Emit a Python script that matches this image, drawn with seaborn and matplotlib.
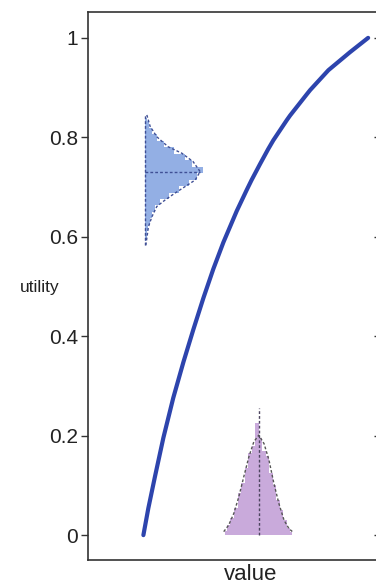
import numpy as np
import matplotlib
matplotlib.use("Agg")
import matplotlib.pyplot as plt
import seaborn as sns

# utility curve (value axis runs 0..1 across the box)
value = [0.191, 0.208, 0.231, 0.260, 0.294, 0.329, 0.363, 0.398, 0.432,
         0.467, 0.513, 0.548, 0.564, 0.593, 0.621, 0.639, 0.686, 0.697,
         0.755, 0.766, 0.829, 0.903, 0.966]
utility = [0.0, 0.054, 0.118, 0.196, 0.276, 0.348, 0.413, 0.477, 0.535,
           0.589, 0.652, 0.695, 0.714, 0.746, 0.776, 0.794, 0.835, 0.844,
           0.887, 0.895, 0.935, 0.971, 1.0]

# utility distribution (drawn sideways), bin centres and relative heights
u_bins = [0.5915, 0.6045, 0.6175, 0.6305, 0.6435, 0.6565, 0.6695, 0.6825,
          0.6955, 0.7085, 0.7215, 0.7345, 0.7475, 0.7605, 0.7735, 0.7865,
          0.7995, 0.8125, 0.8255, 0.8385]
u_counts = [1, 2, 3, 5, 7, 10, 15, 24, 34, 44, 52, 58, 47, 40, 29, 19,
            12, 7, 4, 2]
u_pdf_y = [0.583, 0.620, 0.640, 0.661, 0.674, 0.688, 0.701, 0.714, 0.731,
           0.751, 0.768, 0.781, 0.801, 0.822, 0.845]
u_pdf_d = [0.7, 3.3, 6.7, 11.7, 20, 30, 40, 50, 55, 48, 36.7, 23, 11.7, 5, 1.7]
u_mean = 0.73

# value distribution, bin centres and heights (in utility units)
v_bins = [0.4732, 0.4853, 0.4974, 0.5095, 0.5216, 0.5337, 0.5458, 0.5580,
          0.5701, 0.5822, 0.5943, 0.6064, 0.6185, 0.6306, 0.6427, 0.6549,
          0.6670, 0.6791, 0.6912, 0.7033]
v_counts = [0.008, 0.02, 0.035, 0.055, 0.085, 0.105, 0.135, 0.165, 0.18,
            0.225, 0.195, 0.17, 0.16, 0.125, 0.10, 0.07, 0.05, 0.03, 0.015,
            0.006]
v_pdf_x = [0.468, 0.485, 0.503, 0.520, 0.537, 0.555, 0.572, 0.589, 0.607,
           0.624, 0.641, 0.658, 0.676, 0.693, 0.705]
v_pdf_h = [0.007, 0.020, 0.044, 0.077, 0.117, 0.158, 0.188, 0.201, 0.184,
           0.151, 0.104, 0.064, 0.030, 0.013, 0.007]
v_mean = 0.59
v_mean_top = 0.255

yticks = [0, 0.2, 0.4, 0.6, 0.8, 1.0]
ytick_labels = ['0', '0.2', '0.4', '0.6', '0.8', '1']

sns.set_style("ticks")
plt.rcParams['font.family'] = ['Liberation Sans', 'DejaVu Sans']

fig = plt.figure(figsize=(3.76, 5.85), dpi=100)
ax = fig.add_axes([88 / 376, 25 / 585, 290 / 376, 548 / 585])

# sideways histogram for utility
base = 0.197
scale = 1 / 290
blue_fill = '#93afe4'
blue_line = '#3f4f95'
ax.fill_betweenx(u_bins, base, base + np.array(u_counts) * scale,
                 step='mid', color=blue_fill, lw=0)
sns.lineplot(x=base + np.array(u_pdf_d) * scale, y=u_pdf_y, sort=False,
             estimator=None, color=blue_line, lw=1, ls=(0, (2, 1.5)), ax=ax)
ax.plot([base, base], [u_pdf_y[0], u_pdf_y[-1]], color=blue_line, lw=1,
        ls=(0, (2, 1.5)))
ax.plot([base, base + max(u_pdf_d) * scale], [u_mean, u_mean],
        color=blue_line, lw=1, ls=(0, (2, 1.5)))

# histogram for value
ax.fill_between(v_bins, 0, v_counts, step='mid', color='#c9aadb', lw=0)
sns.lineplot(x=v_pdf_x, y=v_pdf_h, sort=False, estimator=None,
             color='#555555', lw=1, ls=(0, (2, 1.5)), ax=ax)
ax.plot([v_mean, v_mean], [0, v_mean_top], color='#4d4560', lw=1,
        ls=(0, (2, 1.5)))

# utility function
sns.lineplot(x=value, y=utility, sort=False, estimator=None,
             color='#2d44ad', lw=3, solid_joinstyle='round',
             solid_capstyle='round', ax=ax)

ax.set_xlim(0, 1)
ax.set_ylim(-0.05, 1.052)
ax.set_xticks([])
ax.set_yticks(yticks)
ax.set_yticklabels(ytick_labels, fontsize=15)
ax.tick_params(axis='y', direction='out', length=5, width=1, color='#333333',
               pad=2, labelcolor='#222222')
for s in ax.spines.values():
    s.set_color('#333333')
    s.set_linewidth(1.2)

right = ax.secondary_yaxis('right')
right.set_yticks(yticks)
right.tick_params(direction='in', length=3, width=1, color='#333333',
                  labelright=False)

ax.set_ylabel('utility', rotation=0, fontsize=12.5, ha='center', va='center',
              color='#222222')
ax.yaxis.set_label_coords(-0.166, 0.498)
ax.set_xlabel('value', fontsize=16, va='baseline', color='#222222')
ax.xaxis.set_label_coords(0.56, -0.037)

fig.savefig('out.png', dpi=100)
